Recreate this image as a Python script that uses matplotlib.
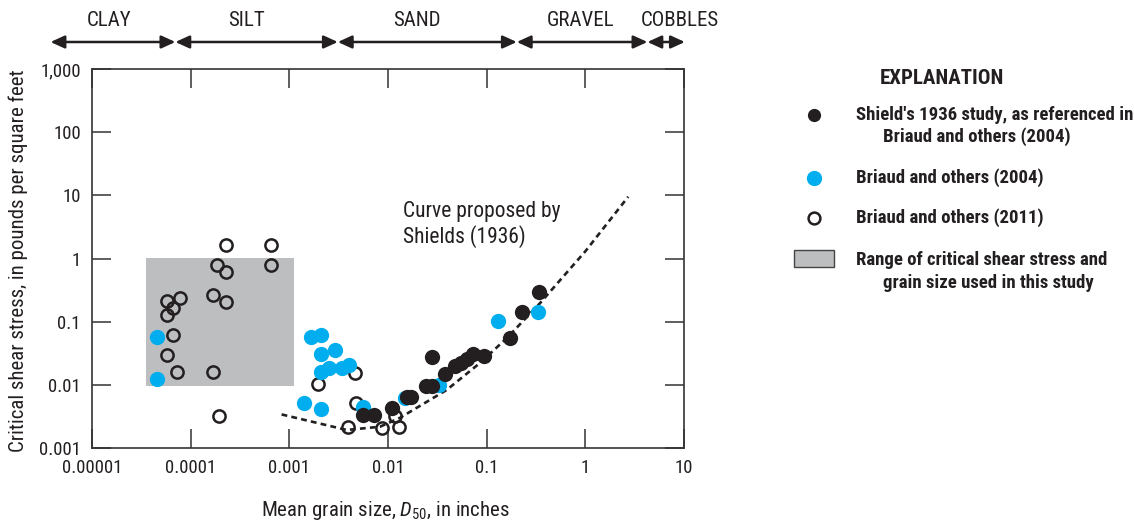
"""
Critical shear stress against mean grain size (D50),
with the Shields (1936) curve and the range used in this study.
"""

import matplotlib.pyplot as plt
import matplotlib.transforms as mtransforms
from matplotlib import font_manager
from matplotlib.lines import Line2D
from matplotlib.patches import Rectangle

# fonts: a narrow face is closest to the original
installed = {f.name for f in font_manager.fontManager.ttflist}
NARROW = next((f for f in ['Roboto Condensed', 'PT Sans Narrow', 'Barlow Semi Condensed']
               if f in installed), 'DejaVu Sans')
plt.rcParams['font.family'] = [NARROW, 'DejaVu Sans']
plt.rcParams['mathtext.fontset'] = 'custom'
plt.rcParams['mathtext.rm'] = NARROW
plt.rcParams['mathtext.it'] = NARROW + ':italic'

# colours
BLACK = '#231F20'
BLUE = '#00AEEF'
GREY = '#BCBEC0'
AXIS = '#333333'
TEXT = '#231F20'

# Shield's 1936 study, as referenced in Briaud and others (2004)
shields_d50 = [0.00553, 0.00728, 0.0110, 0.0154, 0.0173, 0.0242, 0.0277, 0.0277,
               0.0377, 0.0477, 0.0548, 0.0625, 0.0730, 0.0944, 0.172, 0.226, 0.340]
shields_tau = [0.00333, 0.0033, 0.00425, 0.0065, 0.0065, 0.0096, 0.0096, 0.0272,
               0.0147, 0.0198, 0.0224, 0.0253, 0.0304, 0.0288, 0.0556, 0.144, 0.297]

# Briaud and others (2004)
b2004_d50 = [4.53e-5, 4.53e-5, 1.66e-3, 2.09e-3, 2.09e-3, 2.90e-3, 2.09e-3, 2.54e-3, 3.39e-3,
             4.05e-3, 1.42e-3, 2.09e-3, 5.57e-3, 0.0148, 0.0328, 0.131, 0.333]
b2004_tau = [0.0565, 0.0124, 0.057, 0.0614, 0.0307, 0.0356, 0.0161, 0.0182, 0.0182,
             0.0206, 0.0052, 0.0042, 0.0045, 0.0063, 0.0099, 0.102, 0.144]

# Briaud and others (2011)
b2011_d50 = [2.28e-4, 6.52e-4, 1.83e-4, 2.28e-4, 6.52e-4, 5.71e-5, 7.8e-5, 6.67e-5, 5.71e-5,
             1.67e-4, 2.28e-4, 6.67e-5, 5.71e-5, 7.31e-5, 1.67e-4, 1.95e-4, 1.94e-3,
             4.62e-3, 4.73e-3, 3.93e-3, 8.61e-3, 0.0130, 0.0117]
b2011_tau = [1.61, 1.61, 0.79, 0.62, 0.79, 0.21, 0.234, 0.162, 0.126,
             0.264, 0.204, 0.0607, 0.0293, 0.0158, 0.0158, 0.0032, 0.0103,
             0.0155, 0.0052, 0.00217, 0.00205, 0.00217, 0.0032]

# curve proposed by Shields (1936)
curve_d50 = [8.35e-4, 3.81e-3, 8.28e-3, 0.0132, 0.0393, 0.085, 0.159, 0.346, 1.0, 2.72]
curve_tau = [0.0034, 0.00193, 0.00217, 0.0030, 0.0083, 0.022, 0.0544, 0.195, 1.3, 9.5]

# range used in this study
range_d50 = [3.52e-5, 1.11e-3]
range_tau = [0.0097, 1.01]

# grain size classes along the top
class_names = ['CLAY', 'SILT', 'SAND', 'GRAVEL', 'COBBLES']
class_edges = [3.8e-6, 7.0e-5, 3.1e-3, 0.202, 4.26, 10.2]
class_label_x = [10 ** -4.83, 10 ** -3.43, 10 ** -1.71, 10 ** -0.05, 10 ** 0.96]

x_ticks = [1e-5, 1e-4, 1e-3, 1e-2, 1e-1, 1, 10]
x_tick_labels = ['0.00001', '0.0001', '0.001', '0.01', '0.1', '1', '10']
y_ticks = [1e-3, 1e-2, 1e-1, 1, 10, 100, 1000]
y_tick_labels = ['0.001', '0.01', '0.1', '1', '10', '100', '1,000']

W, H = 1134, 525


# pixel position -> figure fraction
def fx(px):
    return px / W


def fy(py):
    return 1 - py / H


fig = plt.figure(figsize=(W / 100, H / 100), dpi=100)
ax = fig.add_axes([fx(92), fy(448), (684 - 92) / W, (448 - 69) / H])
ax.set_xscale('log')
ax.set_yscale('log')
ax.set_xlim(1e-5, 10)
ax.set_ylim(1e-3, 1e3)

# grey range box
ax.add_patch(Rectangle((range_d50[0], range_tau[0]), range_d50[1] - range_d50[0],
                       range_tau[1] - range_tau[0], facecolor=GREY, edgecolor='none', zorder=1))

# Shields curve
ax.plot(curve_d50, curve_tau, color=BLACK, lw=1.9, linestyle=(0, (2.2, 1.6)), zorder=2)

# points
ax.plot(b2011_d50, b2011_tau, 'o', ms=8.8, mfc='none', mec=BLACK, mew=1.8, zorder=3)
ax.plot(b2004_d50, b2004_tau, 'o', ms=11, mfc=BLUE, mec='none', zorder=4)
ax.plot(shields_d50, shields_tau, 'o', ms=11, mfc=BLACK, mec='none', zorder=5)

# axes and ticks
ax.minorticks_off()
ax.set_xticks(x_ticks)
ax.set_xticklabels(x_tick_labels)
ax.set_yticks(y_ticks)
ax.set_yticklabels(y_tick_labels)
ax.tick_params(which='major', direction='in', length=14, width=1.1, color=AXIS,
               top=True, right=True, labelsize=13.5, pad=8, labelcolor=TEXT)
for s in ax.spines.values():
    s.set_linewidth(1.2)
    s.set_color(AXIS)

fig.text(fx(385), fy(510), 'Mean grain size, $D_{50}$, in inches', ha='center', va='center',
         fontsize=15, color=TEXT)
fig.text(fx(18), fy(261), 'Critical shear stress, in pounds per square feet', ha='center',
         va='center', rotation=90, fontsize=15, color=TEXT)

# curve label
ax.text(0.0142, 10 ** 0.536, 'Curve proposed by\nShields (1936)', fontsize=15.5, color=TEXT,
        ha='left', va='center', linespacing=1.17)

# grain size classes with arrows above the plot
top = mtransforms.blended_transform_factory(ax.transData, fig.transFigure)
for i, name in enumerate(class_names):
    x0, x1 = class_edges[i], class_edges[i + 1]
    ax.annotate('', xy=(x1, fy(42)), xytext=(x0, fy(42)), xycoords=top, textcoords=top,
                annotation_clip=False,
                arrowprops=dict(arrowstyle='<|-|>,head_length=0.7,head_width=0.32',
                                mutation_scale=12, lw=1.8, color=BLACK,
                                shrinkA=0, shrinkB=0))
for name, x in zip(class_names, class_label_x):
    ax.text(x, fy(20), name, transform=top, ha='center', va='center', fontsize=15,
            color=TEXT)

# explanation
fig.text(fx(942), fy(78), 'EXPLANATION', ha='center', va='center', fontsize=15,
         fontweight='bold', color=TEXT)
legend_rows = [
    (115, dict(marker='o', ms=9.5, mfc=BLACK, mec='none'),
     ["Shield's 1936 study, as referenced in", 'Briaud and others (2004)']),
    (178, dict(marker='o', ms=11, mfc=BLUE, mec='none'), ['Briaud and others (2004)']),
    (218, dict(marker='o', ms=8.5, mfc='none', mec=BLACK, mew=1.8),
     ['Briaud and others (2011)']),
]
for py, style, lines in legend_rows:
    fig.add_artist(Line2D([fx(814)], [fy(py)], linestyle='none', transform=fig.transFigure,
                          **style))
    for j, line in enumerate(lines):
        fig.text(fx(856 if j == 0 else 883), fy(py + 22 * j), line, ha='left', va='center',
                 fontsize=13.5, fontweight='bold', color=TEXT)

fig.add_artist(Rectangle((fx(794), fy(267)), 40 / W, 17 / H, transform=fig.transFigure,
                         facecolor=GREY, edgecolor='#444444', lw=1))
fig.text(fx(856), fy(260), 'Range of critical shear stress and', ha='left', va='center',
         fontsize=13.5, fontweight='bold', color=TEXT)
fig.text(fx(883), fy(283), 'grain size used in this study', ha='left', va='center',
         fontsize=13.5, fontweight='bold', color=TEXT)

fig.savefig('out.png', dpi=100)
